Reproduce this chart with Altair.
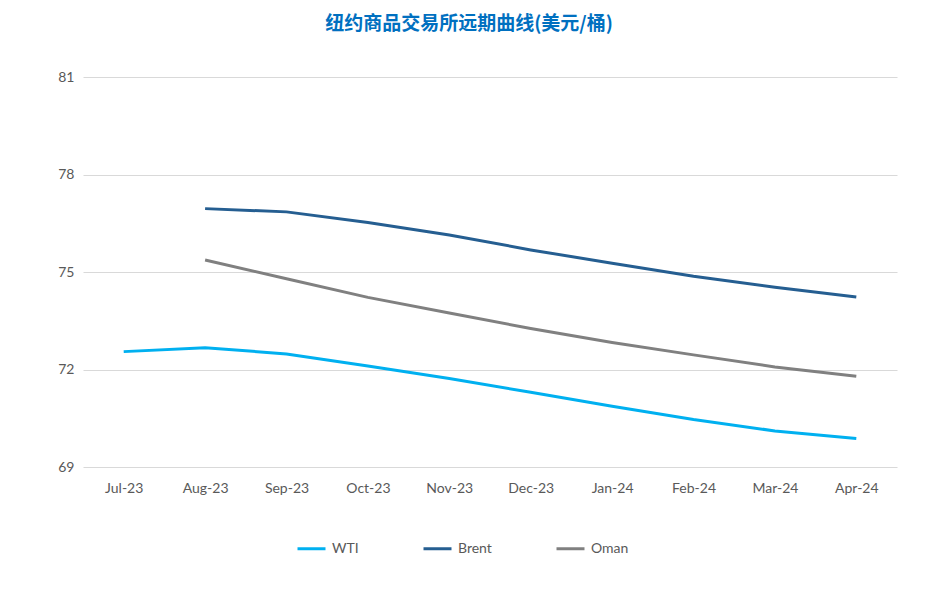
import altair as alt
import pandas as pd

months = ["Jul-23", "Aug-23", "Sep-23", "Oct-23", "Nov-23", "Dec-23",
          "Jan-24", "Feb-24", "Mar-24", "Apr-24"]
wti = [72.55, 72.67, 72.48, 72.11, 71.72, 71.30, 70.87, 70.46, 70.11, 69.88]
brent = [None, 76.95, 76.85, 76.52, 76.14, 75.68, 75.27, 74.87, 74.53, 74.23]
oman = [None, 75.37, 74.79, 74.22, 73.74, 73.26, 72.83, 72.45, 72.08, 71.79]
series = ["WTI", "Brent", "Oman"]
colors = ["#00B0F0", "#255E91", "#808080"]

rows = []
for name, vals in zip(series, [wti, brent, oman]):
    for m, v in zip(months, vals):
        if v is not None:
            rows.append({"month": m, "series": name, "value": v})
df = pd.DataFrame(rows)

font = "Lato"
chart = alt.Chart(df).mark_line(strokeWidth=3).encode(
    x=alt.X("month:O", sort=months, title=None,
            scale=alt.Scale(type="point", padding=0.5),
            axis=alt.Axis(labelAngle=0, labelPadding=14, ticks=False, domain=False,
                          labelFontSize=14, labelColor="#595959", labelFont=font)),
    y=alt.Y("value:Q", title=None,
            scale=alt.Scale(domain=[69, 81], nice=False, zero=False),
            axis=alt.Axis(values=[69, 72, 75, 78, 81], ticks=False, domain=False,
                          labelPadding=9, labelFontSize=14, labelColor="#595959",
                          labelFont=font, gridColor="#D9D9D9", gridWidth=1)),
    color=alt.Color("series:N", sort=series,
                    scale=alt.Scale(domain=series, range=colors),
                    legend=alt.Legend(title=None, orient="none", direction="horizontal",
                                      legendX=288 - 75, legendY=540 - 69 - 15,
                                      symbolType="stroke", symbolSize=784,
                                      symbolStrokeWidth=3, columnPadding=58,
                                      labelOffset=5, labelFontSize=14,
                                      labelColor="#595959", labelFont=font)),
).properties(
    width=814, height=390,
    padding={"left": 75, "top": 69, "right": 30, "bottom": 110},
    autosize=alt.AutoSizeParams(type="none"),
    title=alt.TitleParams("纽约商品交易所远期曲线(美元/桶)", font="Noto Sans CJK SC",
                          fontSize=19, fontWeight="bold", color="#0070C0",
                          anchor="middle", dx=-21, offset=36),
).configure_view(stroke=None)

chart.save("out.html", embed_options={"renderer": "svg", "actions": False})
